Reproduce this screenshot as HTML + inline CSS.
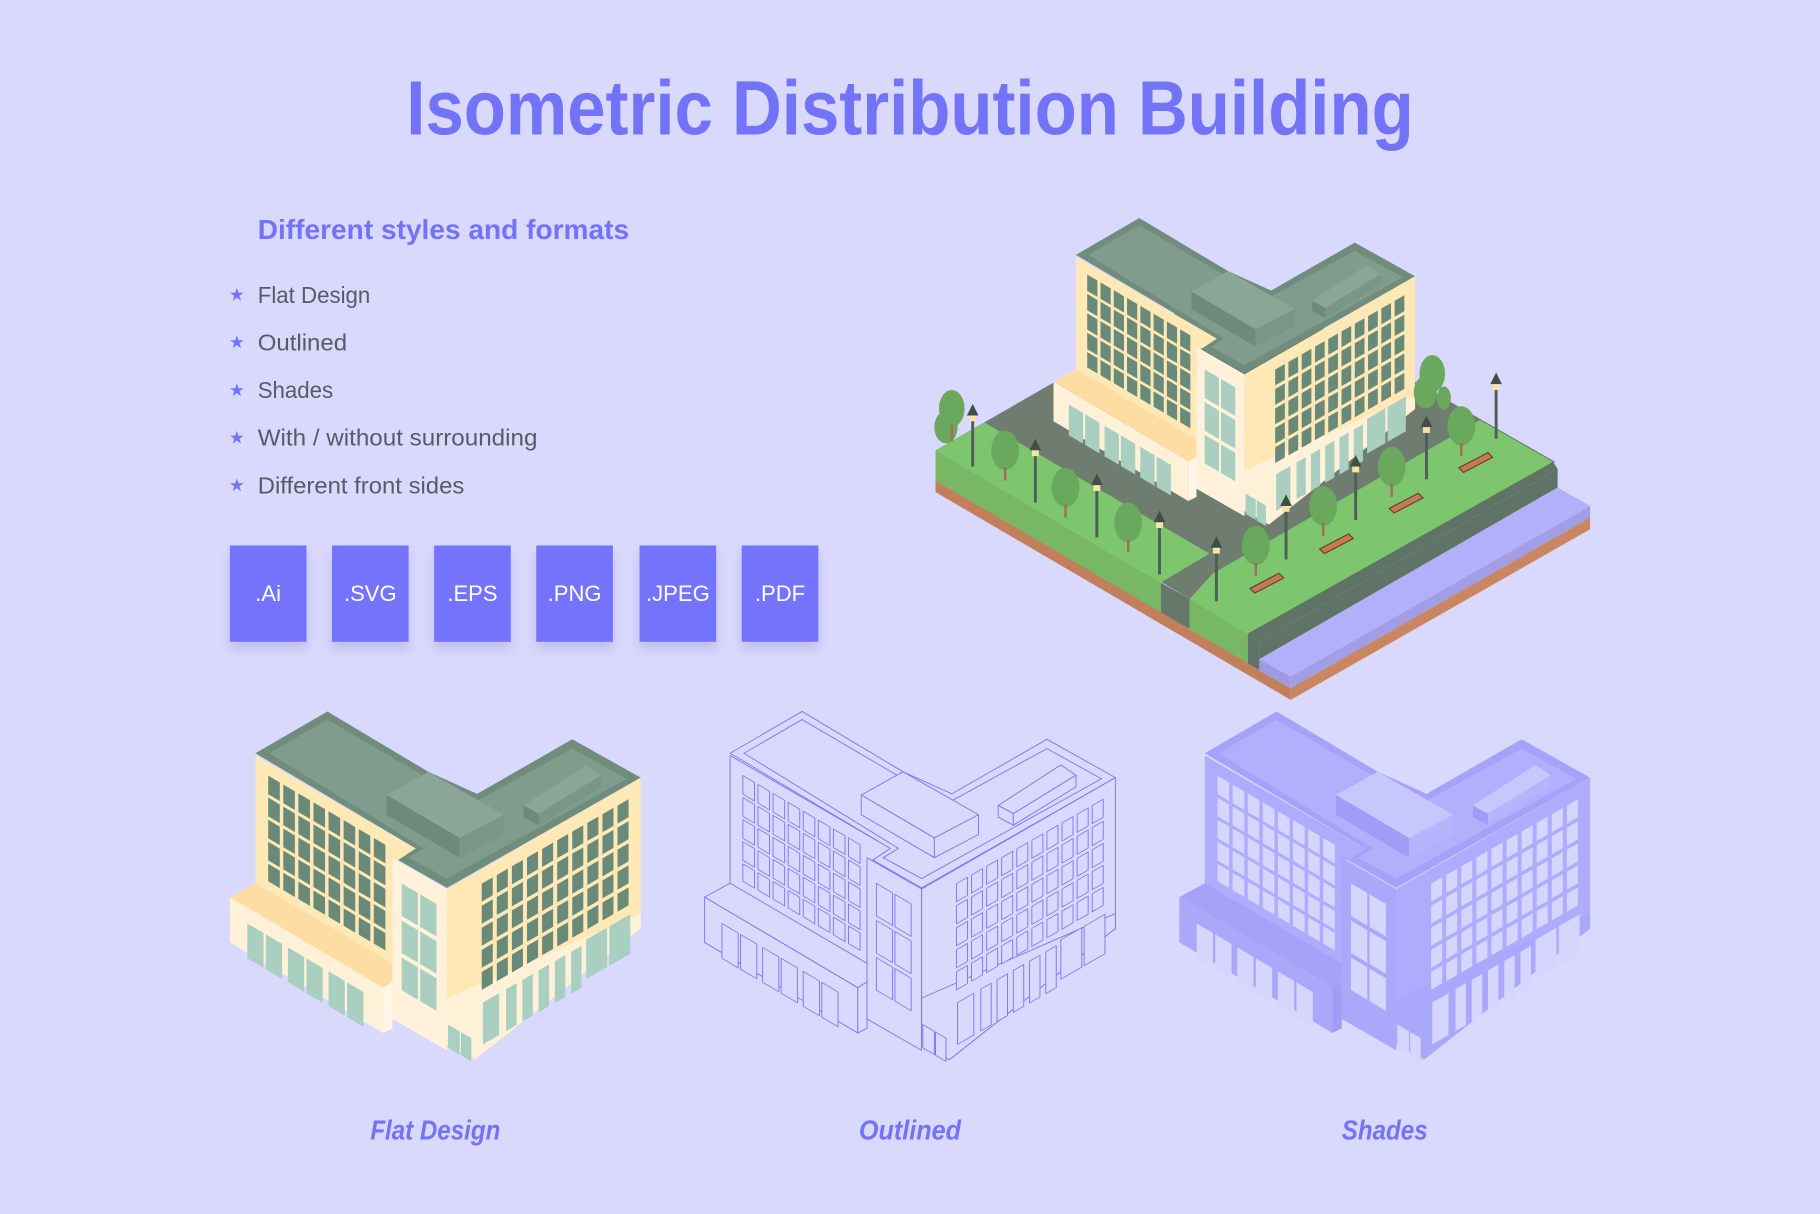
<!DOCTYPE html>
<html><head><meta charset="utf-8"><style>
html,body{margin:0;padding:0;background:#d9d8fd;}
svg{display:block}
.t{font-family:"Liberation Sans",sans-serif}
</style></head><body>
<svg width="1820" height="1214" viewBox="0 0 1568 1046" xmlns="http://www.w3.org/2000/svg">
<defs>
<filter id="sh" x="-30%" y="-30%" width="160%" height="170%"><feDropShadow dx="0" dy="6" stdDeviation="5" flood-color="#8a88c8" flood-opacity="0.35"/></filter>
<g id="bld" style="stroke:var(--st);stroke-width:var(--sw);stroke-linejoin:round">
  <polygon points="220,649 282,613 369,665 411,684 493,637 552,670 385,765 343,741 358,731" style="fill:var(--roofb)"/>
  <polygon points="232,649 282,620 369,671 411,690 493,645 540,671 385,757 352,739 365,731" style="fill:var(--roof)"/>
  <polygon points="220,651 358,731 343,741 338,741 338,840 220,770" style="fill:var(--wall)"/>
  <g transform="matrix(1,0.59,0,1,0,0)" style="fill:var(--win)">
    <rect x="231" y="532" width="10" height="16"/><rect x="244" y="532" width="10" height="16"/><rect x="257" y="532" width="10" height="16"/><rect x="270" y="532" width="10" height="16"/><rect x="283" y="532" width="10" height="16"/><rect x="296" y="532" width="10" height="16"/><rect x="309" y="532" width="10" height="16"/><rect x="322" y="532" width="10" height="16"/>
    <rect x="231" y="551" width="10" height="16"/><rect x="244" y="551" width="10" height="16"/><rect x="257" y="551" width="10" height="16"/><rect x="270" y="551" width="10" height="16"/><rect x="283" y="551" width="10" height="16"/><rect x="296" y="551" width="10" height="16"/><rect x="309" y="551" width="10" height="16"/><rect x="322" y="551" width="10" height="16"/>
    <rect x="231" y="570" width="10" height="16"/><rect x="244" y="570" width="10" height="16"/><rect x="257" y="570" width="10" height="16"/><rect x="270" y="570" width="10" height="16"/><rect x="283" y="570" width="10" height="16"/><rect x="296" y="570" width="10" height="16"/><rect x="309" y="570" width="10" height="16"/><rect x="322" y="570" width="10" height="16"/>
    <rect x="231" y="589" width="10" height="16"/><rect x="244" y="589" width="10" height="16"/><rect x="257" y="589" width="10" height="16"/><rect x="270" y="589" width="10" height="16"/><rect x="283" y="589" width="10" height="16"/><rect x="296" y="589" width="10" height="16"/><rect x="309" y="589" width="10" height="16"/><rect x="322" y="589" width="10" height="16"/>
    <rect x="231" y="608" width="10" height="15"/><rect x="244" y="608" width="10" height="15"/><rect x="257" y="608" width="10" height="15"/><rect x="270" y="608" width="10" height="15"/><rect x="283" y="608" width="10" height="15"/><rect x="296" y="608" width="10" height="15"/><rect x="309" y="608" width="10" height="15"/><rect x="322" y="608" width="10" height="15"/>
  </g>
  <polygon points="198,773 220,761 338,830 338,846 330,851" style="fill:var(--podt)"/>
  <polygon points="198,773 330,851 330,890 198,812" style="fill:var(--pod)"/>
  <polygon points="330,851 338,846 338,886 330,890" style="fill:var(--pods)"/>
  <g transform="matrix(1,0.59,0,1,0,0)" style="fill:var(--glass)">
    <rect x="213" y="670" width="14" height="30"/><rect x="229" y="670" width="14" height="30"/>
    <rect x="248" y="670" width="14" height="30"/><rect x="264" y="670" width="14" height="30"/>
    <rect x="283" y="670" width="14" height="30"/><rect x="299" y="670" width="14" height="30"/>
  </g>
  <polygon points="338,739 385,766 385,905 338,878" style="fill:var(--tower)"/>
  <g transform="matrix(1,0.59,0,1,0,0)" style="fill:var(--glass)">
    <rect x="346" y="557" width="14" height="28"/><rect x="362" y="557" width="14" height="28"/>
    <rect x="346" y="589" width="14" height="28"/><rect x="362" y="589" width="14" height="28"/>
    <rect x="346" y="621" width="14" height="28"/><rect x="362" y="621" width="14" height="28"/>
  </g>
  <polygon points="385,766 552,670 552,800 409,913 385,900" style="fill:var(--wallR)"/>
  <polygon points="385,860 552,787 552,800 409,913 385,900" style="fill:var(--pod)"/>
  <g transform="matrix(1,-0.575,0,1,0,0)" style="fill:var(--win)">
    <rect x="415" y="1000" width="9.5" height="15.5"/><rect x="428" y="1000" width="9.5" height="15.5"/><rect x="441" y="1000" width="9.5" height="15.5"/><rect x="454" y="1000" width="9.5" height="15.5"/><rect x="467" y="1000" width="9.5" height="15.5"/><rect x="480" y="1000" width="9.5" height="15.5"/><rect x="493" y="1000" width="9.5" height="15.5"/><rect x="506" y="1000" width="9.5" height="15.5"/><rect x="519" y="1000" width="9.5" height="15.5"/><rect x="532" y="1000" width="9.5" height="15.5"/>
    <rect x="415" y="1019" width="9.5" height="15.5"/><rect x="428" y="1019" width="9.5" height="15.5"/><rect x="441" y="1019" width="9.5" height="15.5"/><rect x="454" y="1019" width="9.5" height="15.5"/><rect x="467" y="1019" width="9.5" height="15.5"/><rect x="480" y="1019" width="9.5" height="15.5"/><rect x="493" y="1019" width="9.5" height="15.5"/><rect x="506" y="1019" width="9.5" height="15.5"/><rect x="519" y="1019" width="9.5" height="15.5"/><rect x="532" y="1019" width="9.5" height="15.5"/>
    <rect x="415" y="1038" width="9.5" height="15.5"/><rect x="428" y="1038" width="9.5" height="15.5"/><rect x="441" y="1038" width="9.5" height="15.5"/><rect x="454" y="1038" width="9.5" height="15.5"/><rect x="467" y="1038" width="9.5" height="15.5"/><rect x="480" y="1038" width="9.5" height="15.5"/><rect x="493" y="1038" width="9.5" height="15.5"/><rect x="506" y="1038" width="9.5" height="15.5"/><rect x="519" y="1038" width="9.5" height="15.5"/><rect x="532" y="1038" width="9.5" height="15.5"/>
    <rect x="415" y="1057" width="9.5" height="15.5"/><rect x="428" y="1057" width="9.5" height="15.5"/><rect x="441" y="1057" width="9.5" height="15.5"/><rect x="454" y="1057" width="9.5" height="15.5"/><rect x="467" y="1057" width="9.5" height="15.5"/><rect x="480" y="1057" width="9.5" height="15.5"/><rect x="493" y="1057" width="9.5" height="15.5"/><rect x="506" y="1057" width="9.5" height="15.5"/><rect x="519" y="1057" width="9.5" height="15.5"/><rect x="532" y="1057" width="9.5" height="15.5"/>
    <rect x="415" y="1076" width="9.5" height="15.5"/><rect x="428" y="1076" width="9.5" height="15.5"/><rect x="441" y="1076" width="9.5" height="15.5"/><rect x="454" y="1076" width="9.5" height="15.5"/><rect x="467" y="1076" width="9.5" height="15.5"/><rect x="480" y="1076" width="9.5" height="15.5"/><rect x="493" y="1076" width="9.5" height="15.5"/><rect x="506" y="1076" width="9.5" height="15.5"/><rect x="519" y="1076" width="9.5" height="15.5"/><rect x="532" y="1076" width="9.5" height="15.5"/>
  </g>
  <g transform="matrix(1,-0.575,0,1,0,0)" style="fill:var(--glass)">
    <rect x="505" y="1100" width="18" height="34"/><rect x="525" y="1100" width="18" height="34"/>
    <rect x="416" y="1103" width="14" height="36"/><rect x="436" y="1103" width="9" height="36"/><rect x="450" y="1103" width="9" height="36"/><rect x="464" y="1103" width="9" height="36"/><rect x="478" y="1103" width="9" height="36"/><rect x="492" y="1103" width="9" height="36"/>
  </g>
  <g transform="matrix(1,0.59,0,1,0,0)" style="fill:var(--glass)">
    <rect x="386" y="655" width="10" height="20"/><rect x="397" y="655" width="9" height="20"/>
  </g>
  <polygon points="333,685 369,665 434,702 396,722" style="fill:var(--box)"/>
  <polygon points="333,685 396,722 396,739 333,702" style="fill:var(--boxs)"/>
  <polygon points="396,722 434,702 434,719 396,739" style="fill:var(--boxs2)"/>
  <polygon points="451,694 505,659 518,668 464,701" style="fill:var(--box)"/>
  <polygon points="451,694 464,701 464,711 451,704" style="fill:var(--boxs)"/>
  <polygon points="464,701 518,668 518,678 464,711" style="fill:var(--boxs2)"/>
</g>
</defs>

<rect width="1568" height="1046" fill="#d9d8fd"/>

<text class="t" x="784" y="116" text-anchor="middle" font-size="66" font-weight="bold" fill="#7373f8" textLength="868" lengthAdjust="spacingAndGlyphs">Isometric Distribution Building</text>
<text class="t" x="222" y="206" font-size="24" font-weight="bold" fill="#7373f8" textLength="320" lengthAdjust="spacingAndGlyphs">Different styles and formats</text>
<g class="t" font-size="20" fill="#5a5a66">
<text x="222" y="261" textLength="97" lengthAdjust="spacingAndGlyphs">Flat Design</text>
<text x="222" y="302" textLength="77" lengthAdjust="spacingAndGlyphs">Outlined</text>
<text x="222" y="343" textLength="65" lengthAdjust="spacingAndGlyphs">Shades</text>
<text x="222" y="384" textLength="241" lengthAdjust="spacingAndGlyphs">With / without surrounding</text>
<text x="222" y="425" textLength="178" lengthAdjust="spacingAndGlyphs">Different front sides</text>
</g>
<g class="t" font-size="15" fill="#7373f8">
<text x="204" y="259" text-anchor="middle">★</text><text x="204" y="300" text-anchor="middle">★</text><text x="204" y="341" text-anchor="middle">★</text><text x="204" y="382" text-anchor="middle">★</text><text x="204" y="423" text-anchor="middle">★</text>
</g>
<g fill="#7373fb" filter="url(#sh)">
<rect x="198" y="470" width="66" height="83"/><rect x="286" y="470" width="66" height="83"/><rect x="374" y="470" width="66" height="83"/><rect x="462" y="470" width="66" height="83"/><rect x="551" y="470" width="66" height="83"/><rect x="639" y="470" width="66" height="83"/>
</g>
<g class="t" font-size="19" fill="#ffffff" text-anchor="middle">
<text x="231" y="518">.Ai</text><text x="319" y="518">.SVG</text><text x="407" y="518">.EPS</text><text x="495" y="518">.PNG</text><text x="584" y="518">.JPEG</text><text x="672" y="518">.PDF</text>
</g>

<!-- ground scene -->
<polygon points="806,388 1064,240 1340,398 1085,551" fill="#6f7d71"/>
<polygon points="806,388 848,364 1042,477 1000,502" fill="#7dc66e"/>
<polygon points="1025,516 1045,494 1275,362 1338,398 1075,546" fill="#7dc66e"/>
<polygon points="1075,546 1338,398 1342,404 1085,553" fill="#5f7466"/>
<polygon points="806,388 1000,502 1000,528 806,414" fill="#78b865"/>
<polygon points="1000,502 1025,516 1025,542 1000,528" fill="#66786a"/>
<polygon points="1025,516 1075,546 1075,572 1025,542" fill="#78b865"/>
<polygon points="1075,546 1085,552 1085,578 1075,572" fill="#5f7466"/>
<polygon points="806,414 1112,593 1112,603 806,424" fill="#c27f5c"/>
<polygon points="1342,404 1342,420 1085,568 1085,553" fill="#5f7466"/>
<polygon points="1085,568 1342,420 1370,436 1112,583" fill="#b3b0fb"/>
<polygon points="1085,568 1112,583 1112,593 1085,578" fill="#9d9ae0"/>
<polygon points="1112,583 1370,436 1370,446 1112,593" fill="#a19ee6"/>
<polygon points="1112,593 1370,446 1370,456 1112,603" fill="#c98660"/>

<use href="#bld" transform="translate(927,187) scale(0.88) translate(-220,-612)" style="--st:none;--sw:0;--roof:#7f9c8c;--roofb:#6f8c7c;--wall:#fde8b6;--wallR:#fde8b6;--pod:#fff1d8;--podt:#fddda2;--pods:#fff6e6;--tower:#fff1da;--win:#6a8a79;--glass:#a9cfc0;--box:#8aa696;--boxs:#6f8a7b;--boxs2:#7a9687"/>

<!-- trees and lamps -->
<g fill="#6aa85e">
<ellipse cx="820" cy="352" rx="11" ry="16"/><ellipse cx="815" cy="368" rx="10" ry="14"/><ellipse cx="866" cy="388" rx="12" ry="17"/><ellipse cx="918" cy="420" rx="12" ry="17"/><ellipse cx="972" cy="450" rx="12" ry="17"/><ellipse cx="1082" cy="470" rx="12" ry="17"/><ellipse cx="1140" cy="436" rx="12" ry="17"/><ellipse cx="1199" cy="402" rx="12" ry="17"/><ellipse cx="1259" cy="367" rx="12" ry="17"/><ellipse cx="1234" cy="322" rx="11" ry="16"/><ellipse cx="1228" cy="338" rx="10" ry="14"/><ellipse cx="1244" cy="343" rx="6" ry="10"/>
</g>
<g stroke="#a36a55" stroke-width="2"><line x1="820" y1="366" x2="820" y2="380"/><line x1="866" y1="403" x2="866" y2="414"/><line x1="918" y1="435" x2="918" y2="446"/><line x1="972" y1="465" x2="972" y2="476"/><line x1="1082" y1="485" x2="1082" y2="496"/><line x1="1140" y1="451" x2="1140" y2="462"/><line x1="1199" y1="417" x2="1199" y2="428"/><line x1="1259" y1="382" x2="1259" y2="393"/></g>
<g stroke="#4d5f55" stroke-width="2.5">
<line x1="838" y1="360" x2="838" y2="402"/><line x1="892" y1="390" x2="892" y2="433"/><line x1="945" y1="420" x2="945" y2="463"/><line x1="999" y1="452" x2="999" y2="495"/><line x1="1048" y1="474" x2="1048" y2="518"/><line x1="1108" y1="438" x2="1108" y2="482"/><line x1="1168" y1="404" x2="1168" y2="448"/><line x1="1229" y1="370" x2="1229" y2="413"/><line x1="1289" y1="333" x2="1289" y2="378"/>
</g>
<g fill="#3f4f46">
<path d="M833,358 L838,348 L843,358 Z"/><path d="M887,388 L892,378 L897,388 Z"/><path d="M940,418 L945,408 L950,418 Z"/><path d="M994,450 L999,440 L1004,450 Z"/><path d="M1043,472 L1048,462 L1053,472 Z"/><path d="M1103,436 L1108,426 L1113,436 Z"/><path d="M1163,402 L1168,392 L1173,402 Z"/><path d="M1224,368 L1229,358 L1234,368 Z"/><path d="M1284,331 L1289,321 L1294,331 Z"/>
</g>
<g fill="#f6e3a8">
<rect x="835" y="358" width="6" height="5"/><rect x="889" y="388" width="6" height="5"/><rect x="942" y="418" width="6" height="5"/><rect x="996" y="450" width="6" height="5"/><rect x="1045" y="472" width="6" height="5"/><rect x="1105" y="436" width="6" height="5"/><rect x="1165" y="402" width="6" height="5"/><rect x="1226" y="368" width="6" height="5"/><rect x="1286" y="331" width="6" height="5"/>
</g>
<g fill="#c47a52" stroke="#6a3f2c" stroke-width="1">
<polygon points="1077,507 1102,494 1106,498 1081,511"/><polygon points="1137,473 1162,460 1166,464 1141,477"/><polygon points="1197,438 1222,425 1226,429 1201,442"/><polygon points="1257,403 1282,390 1286,394 1261,407"/>
</g>

<!-- three building variants -->
<use href="#bld" style="--st:none;--sw:0;--roof:#7f9c8c;--roofb:#6f8c7c;--wall:#fde8b6;--wallR:#fde8b6;--pod:#fff1d8;--podt:#fddda2;--pods:#fff6e6;--tower:#fff1da;--win:#6a8a79;--glass:#a9cfc0;--box:#8aa696;--boxs:#6f8a7b;--boxs2:#7a9687"/>
<use href="#bld" transform="translate(409,0)" style="--st:#7a78f3;--sw:0.8;--roof:#d9d8fd;--roofb:#d9d8fd;--wall:#d9d8fd;--wallR:#d9d8fd;--pod:#d9d8fd;--podt:#d9d8fd;--pods:#d9d8fd;--tower:#d9d8fd;--win:#d9d8fd;--glass:#d9d8fd;--box:#d9d8fd;--boxs:#d9d8fd;--boxs2:#d9d8fd"/>
<use href="#bld" transform="translate(818,0)" style="--st:none;--sw:0;--roof:#b2b0fc;--roofb:#a4a2fb;--wall:#aeacfc;--wallR:#aeacfc;--pod:#aaa8fb;--podt:#a5a3f9;--pods:#9f9df6;--tower:#aaa8fb;--win:#d6d5fd;--glass:#d6d5fd;--box:#c8c7fd;--boxs:#9f9df6;--boxs2:#b6b4fc"/>

<g class="t" font-size="24" font-weight="bold" font-style="italic" fill="#7373f8" text-anchor="middle">
<text x="375" y="982" textLength="112" lengthAdjust="spacingAndGlyphs">Flat Design</text>
<text x="784" y="982" textLength="88" lengthAdjust="spacingAndGlyphs">Outlined</text>
<text x="1193" y="982" textLength="74" lengthAdjust="spacingAndGlyphs">Shades</text>
</g>
</svg>
</body></html>
